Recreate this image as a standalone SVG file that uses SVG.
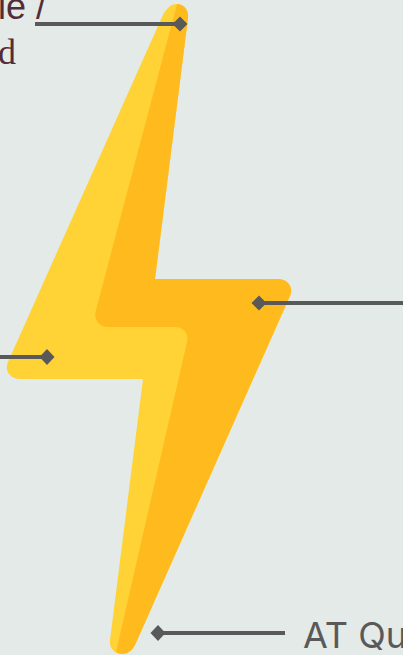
<svg xmlns="http://www.w3.org/2000/svg" width="403" height="655" viewBox="0 0 403 655">
<style>
.c{stroke:#595959;stroke-width:4;fill:none}
.d{fill:#595959}
.s{font-family:"Liberation Sans",Arial,sans-serif;fill:#542c38;font-size:36px}
.r{font-family:"Liberation Serif","Times New Roman",serif;fill:#542c38;font-size:36px}
</style>
<rect width="403" height="655" fill="#e4eae8"/>
<g id="bolt">
<path fill="#ffd236" d="M162 17C166 8 171 4 177 4C184 4 189 10 188 18L155 279H278C288 279 294 288 290 296L135 645C132 651 127 654 122 654C114 654 109 648 110 640L143 379H20C10 379 4 370 8 362Z"/>
<path fill="#ffbb1d" d="M177 4C184 4 189 10 188 18L155 279H278C288 279 294 288 290 296L135 645C132 651 127 654 122 654C120 654 118 653 116 652L187 342C189 333 183 327 175 327H108C99 327 93 319 96 310Z"/>
</g>
<g id="connectors">
<path class="c" d="M35 24H180M0 357H47M403 303H259M285 633H158"/>
<path class="d" d="M180 16.500L187.500 24L180 31.500L172.500 24ZM47 349L54.500 357L47 365L39.500 357ZM259 295.500L266.500 303L259 310.500L251.500 303ZM158 625L165.500 633L158 641L150.500 633Z"/>
</g>
<g id="label-top">
<text class="s" x="-2" y="19">le /</text>
<text class="r" x="-2" y="64">d</text>
</g>
<g id="label-bottom">
<text x="303" y="648" font-family="Inter,'Liberation Sans',sans-serif" font-size="36" fill="#595959">AT Qu</text>
</g>
</svg>
